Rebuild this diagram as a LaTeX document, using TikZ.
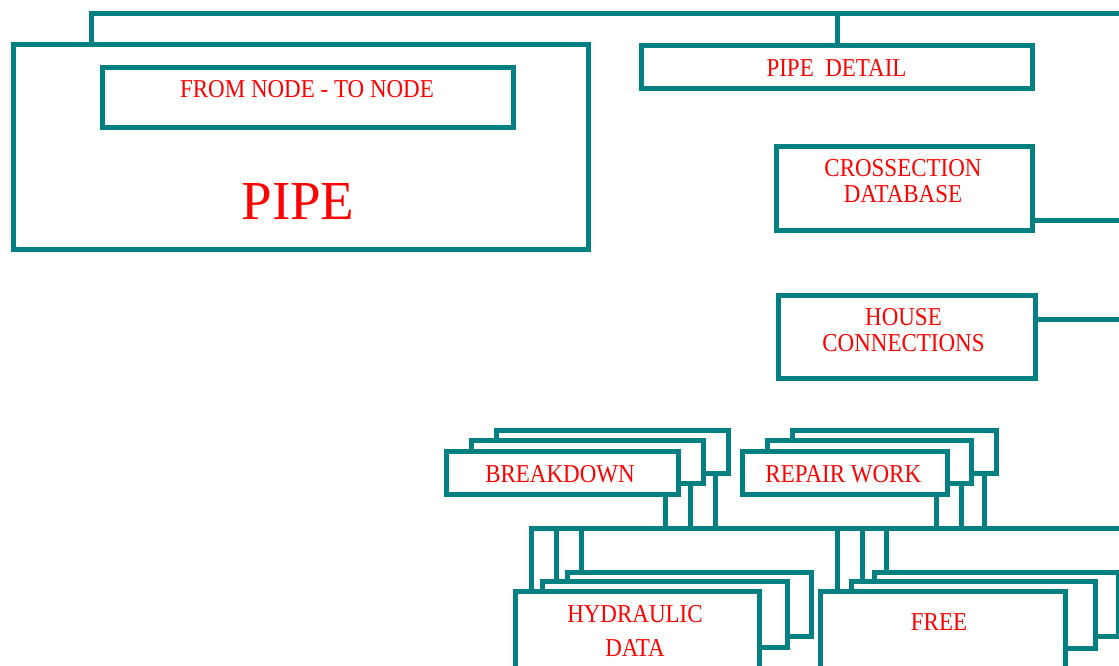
\documentclass[tikz,border=0pt]{standalone}
\usepackage{fontspec}
\setmainfont{Liberation Serif}
\usepackage{graphicx}
\usetikzlibrary{backgrounds}
\definecolor{tealline}{RGB}{0,128,128}
\definecolor{redtext}{RGB}{255,0,0}
\newcommand{\lbl}[1]{\scalebox{1}[1.12]{\begin{tabular}[t]{@{}c@{}}#1\end{tabular}}}
\newcommand{\mkbox}[5]{\node[box, minimum width={#4pt-#2pt}, minimum height={#5pt-#3pt}] (#1) at ({(#2+#4)/2},{(#3+#5)/2}) {};}
\begin{document}
\begin{tikzpicture}[x=1pt,y=-1pt,
  box/.style={draw=tealline, line width=5pt, fill=white, inner sep=0pt, rectangle},
  conn/.style={draw=tealline, line width=5pt},
  lab/.style={text=redtext, font=\fontsize{23}{23.6}\selectfont, inner sep=0pt, anchor=base},
  biglab/.style={text=redtext, font=\fontsize{55}{60}\selectfont, inner sep=0pt, anchor=base},
]
\useasboundingbox (0,0) rectangle (1119,666);
\clip (0,0) rectangle (1119,666);

% coordinates for free ends and bus levels
\coordinate (topL) at (91,14);
\coordinate (topR) at (1119,14);
\coordinate (crossR) at (1119,220);
\coordinate (houseR) at (1119,319);
\coordinate (busL) at (531.5,528);
\coordinate (busR) at (1119,528);
\coordinate (hx2) at (556.5,528);
\coordinate (hx3) at (581,528);
\coordinate (fx1) at (837.5,528);
\coordinate (fx2) at (862,528);
\coordinate (fx3) at (886.5,528);
\coordinate (bx1) at (665.5,528);
\coordinate (bx2) at (690.5,528);
\coordinate (bx3) at (715.5,528);
\coordinate (rx1) at (936,528);
\coordinate (rx2) at (961,528);
\coordinate (rx3) at (984,528);

% boxes
\mkbox{pipe}{13}{45}{588}{249.5}
\mkbox{fromto}{102.5}{68}{513.5}{127.5}
\mkbox{pdetail}{641.5}{45.5}{1032.5}{89}
\mkbox{cross}{776.5}{147}{1032.5}{230}
\mkbox{house}{778.5}{295}{1035}{378}

% stacked boxes: back to front
\mkbox{bk3}{496}{430}{728}{473}
\mkbox{bk2}{471}{440.5}{703}{483.5}
\mkbox{bk1}{446}{451}{678}{494}
\mkbox{rw3}{792}{430}{996.5}{473}
\mkbox{rw2}{767}{440.5}{971.5}{483.5}
\mkbox{rw1}{742.5}{451}{947}{494}
\mkbox{hy3}{567}{572}{811.5}{636.5}
\mkbox{hy2}{542.5}{581}{787}{647.5}
\mkbox{hy1}{515}{591}{759.5}{690}
\mkbox{fr3}{874}{572.5}{1118}{636.5}
\mkbox{fr2}{851}{581.5}{1095}{648}
\mkbox{fr1}{820}{591}{1065}{690}

% connectors (behind the boxes)
\begin{scope}[on background layer]
\clip (0,0) rectangle (1119,666);
\fill[white] (0,0) rectangle (1119,666);
\draw[conn] (topL |- pipe.north) -- (topL) -- (topR);
\draw[conn] (pdetail.north) -- (pdetail.north |- topL);
\draw[conn] (cross.east |- crossR) -- (crossR);
\draw[conn] (house.east |- houseR) -- (houseR);
\draw[conn] (busL |- hy1.north) -- (busL) -- (busR);
\draw[conn] (hx2 |- hy2.north) -- (hx2);
\draw[conn] (hx3 |- hy3.north) -- (hx3);
\draw[conn] (fx1 |- fr1.north) -- (fx1);
\draw[conn] (fx2 |- fr2.north) -- (fx2);
\draw[conn] (fx3 |- fr3.north) -- (fx3);
\draw[conn] (bx1 |- bk1.south) -- (bx1);
\draw[conn] (bx2 |- bk2.south) -- (bx2);
\draw[conn] (bx3 |- bk3.south) -- (bx3);
\draw[conn] (rx1 |- rw1.south) -- (rx1);
\draw[conn] (rx2 |- rw2.south) -- (rx2);
\draw[conn] (rx3 |- rw3.south) -- (rx3);
\end{scope}

% labels
\node[lab] (tfrom) at (307,98) {\lbl{FROM NODE - TO NODE}};
\node[biglab] (tpipe) at (298,219) {PIPE};
\node[lab] (tdetail) at (836.5,77) {\lbl{PIPE\ \ DETAIL}};
\node[lab] (tcross) at (903,176) {\lbl{CROSSECTION\\DATABASE}};
\node[lab] (thouse) at (903.5,325.5) {\lbl{HOUSE\\CONNECTIONS}};
\node[lab] (tbreak) at (560,482) {\lbl{BREAKDOWN}};
\node[lab] (trepair) at (843.3,482) {\lbl{REPAIR WORK}};
\node[lab] (thyd) at (635,622.7) {\lbl{HYDRAULIC\\[6.5pt]DATA}};
\node[lab] (tfree) at (939,630) {\lbl{FREE}};
\end{tikzpicture}
\end{document}
